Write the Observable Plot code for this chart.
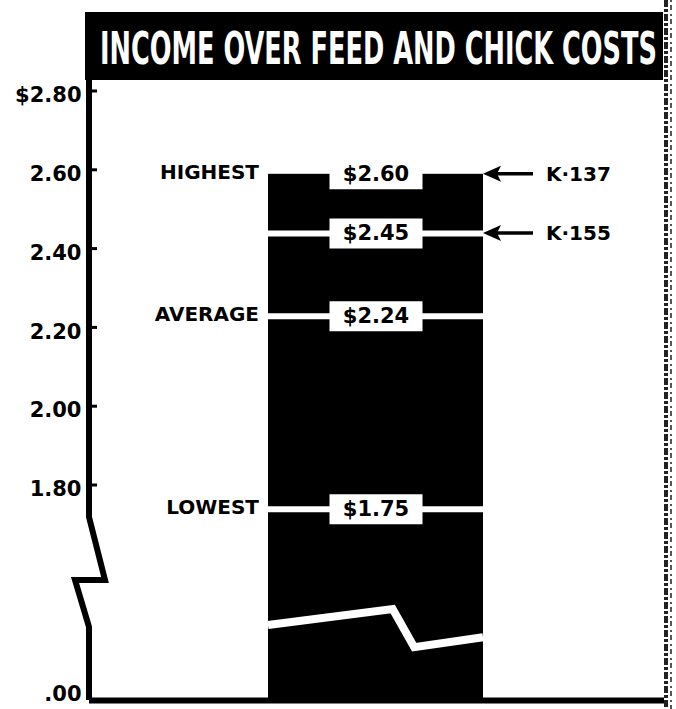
<!DOCTYPE html>
<html><head><meta charset="utf-8">
<script src="https://cdn.jsdelivr.net/npm/d3@7"></script>
<script src="https://cdn.jsdelivr.net/npm/@observablehq/plot@0.6"></script>
<style>
html,body{margin:0;padding:0;background:#fff;}
#wrap{position:relative;width:676px;height:709px;overflow:hidden;}
#title{position:absolute;left:85px;top:12px;width:578px;height:68px;background:#000;overflow:hidden;display:flex;align-items:center;}
#tt{display:inline-block;margin-left:15px;margin-top:4px;color:#fff;font-family:"DejaVu Sans Condensed","Liberation Sans Narrow","DejaVu Sans",sans-serif;font-weight:bold;font-size:45px;white-space:nowrap;transform-origin:0 50%;line-height:1;}
</style></head>
<body>
<div id="wrap"><div id="chart"></div><div id="title"><span id="tt"></span></div></div>
<script>
// ---- data ----
const titleText = "INCOME OVER FEED AND CHICK COSTS";
const category = ["Income"];
const barValue = [2.60];                       // highest income (bar top)
const levelLabels = ["HIGHEST", "AVERAGE", "LOWEST"];
const levelValues = [2.60, 2.24, 1.75];
const boxValues = [2.60, 2.45, 2.24, 1.75];
const lineValues = [2.45, 2.24, 1.75];
const strainLabels = ["K·137", "K·155"];
const strainValues = [2.60, 2.45];
const yTicks = [0, 1.80, 2.00, 2.20, 2.40, 2.60, 2.80];
const yTickLabels = [".00", "1.80", "2.00", "2.20", "2.40", "2.60", "$2.80"];
// decoration: axis break (value levels) and bar break line (fraction across bar, value)
const axisBreak = [[0, 2.95], [0, 1.729], [16, 1.453], [-14, 1.453], [0, 0.884], [0, 0]];
const barBreak = [[0, 0.908], [0.58, 1.10], [0.68, 0.64], [1, 0.76]];

document.getElementById("tt").textContent = titleText;

const bars = category.map((c, i) => ({cat: c, value: barValue[i]}));
const levels = levelLabels.map((l, i) => ({cat: category[0], label: l, value: levelValues[i]}));
const boxes = boxValues.map(v => ({cat: category[0], value: v}));
const lines = lineValues.map(v => ({cat: category[0], value: v}));
const strains = strainLabels.map((l, i) => ({cat: category[0], label: l, value: strainValues[i]}));

const boxSymbol = {draw(ctx) { ctx.rect(-46.5, -15, 93, 30); }};
const font = {fontFamily: "DejaVu Sans", fontWeight: "bold", fontSize: 21};
const fmt = d => yTickLabels[yTicks.indexOf(d)];

function decorations(index, scales, values, dim) {
  const g = d3.create("svg:g");
  const x = scales.x, y = scales.y;
  const bx1 = x(category[0]);
  const bw = x.bandwidth ? x.bandwidth() : 215;
  const bx2 = bx1 + bw;
  const ax = dim.marginLeft;
  // break line through the bar
  g.append("path")
    .attr("d", d3.line()(barBreak.map(([f, v]) => [bx1 + f * bw, y(v)])))
    .attr("fill", "none").attr("stroke", "white").attr("stroke-width", 8).attr("stroke-linejoin", "miter");
  // broken y axis
  g.append("path")
    .attr("d", d3.line()(axisBreak.map(([dx, v]) => [ax + dx, y(v)])))
    .attr("fill", "none").attr("stroke", "black").attr("stroke-width", 6).attr("stroke-linejoin", "miter");
  // tick marks pointing inward
  for (const t of yTicks) {
    if (t === 0) continue;
    g.append("line").attr("x1", ax).attr("x2", ax + 8)
      .attr("y1", y(t) - 4).attr("y2", y(t) - 4)
      .attr("stroke", "black").attr("stroke-width", 3);
  }
  // arrows to strain labels
  for (const v of strainValues) {
    const yy = y(v);
    g.append("line").attr("x1", bx2 + 12).attr("x2", bx2 + 50)
      .attr("y1", yy).attr("y2", yy).attr("stroke", "black").attr("stroke-width", 3.5);
    g.append("path")
      .attr("d", `M${bx2},${yy}L${bx2 + 18},${yy - 8}L${bx2 + 14},${yy}L${bx2 + 18},${yy + 8}Z`)
      .attr("fill", "black");
  }
  // scanned right border
  g.append("line").attr("x1", 666).attr("x2", 666).attr("y1", 0).attr("y2", 709)
    .attr("stroke", "#222").attr("stroke-width", 4).attr("stroke-dasharray", "7,2,3,2");
  g.append("line").attr("x1", 671).attr("x2", 671).attr("y1", 0).attr("y2", 709)
    .attr("stroke", "#555").attr("stroke-width", 2).attr("stroke-dasharray", "2,3,5,4");
  return g.node();
}

const chart = Plot.plot({
  width: 676,
  height: 709,
  marginLeft: 89,
  marginRight: 12,
  marginTop: 0,
  marginBottom: 0,
  style: {background: "white", fontFamily: "DejaVu Sans", overflow: "visible"},
  x: {type: "band", domain: category, range: [268, 483], padding: 0, axis: null},
  y: {type: "linear", domain: [0, 1.60, 2.80], range: [700, 567.8, 95]},
  marks: [
    Plot.barY(bars, {x: "cat", y: "value", fill: "black", inset: 0}),
    Plot.tickY(lines, {x: "cat", y: "value", stroke: "white", strokeWidth: 6}),
    Plot.ruleY([0], {stroke: "black", strokeWidth: 6}),
    decorations,
    Plot.dot(boxes, {x: "cat", y: "value", symbol: boxSymbol, fill: "white", stroke: null}),
    Plot.text(boxes, {x: "cat", y: "value", text: d => "$" + d.value.toFixed(2), fill: "black", ...font}),
    Plot.text(levels, {x: "cat", y: "value", text: "label", textAnchor: "end", dx: -117, dy: -2, fill: "black", ...font, fontSize: 20}),
    Plot.text(strains, {x: "cat", y: "value", text: "label", textAnchor: "start", dx: 170, fill: "black", ...font, fontSize: 20}),
    Plot.axisY({anchor: "left", ticks: yTicks.filter(t => t !== 0), tickFormat: fmt, tickSize: 0, tickPadding: 8, label: null, ...font}),
    Plot.axisY({anchor: "left", ticks: [0], tickFormat: fmt, tickSize: 0, tickPadding: 8, label: null, dy: -6, ...font})
  ]
});
document.getElementById("chart").appendChild(chart);

const tt = document.getElementById("tt");
const w = tt.offsetWidth;
tt.style.transform = `scaleX(${557 / w})`;
</script>
</body></html>
